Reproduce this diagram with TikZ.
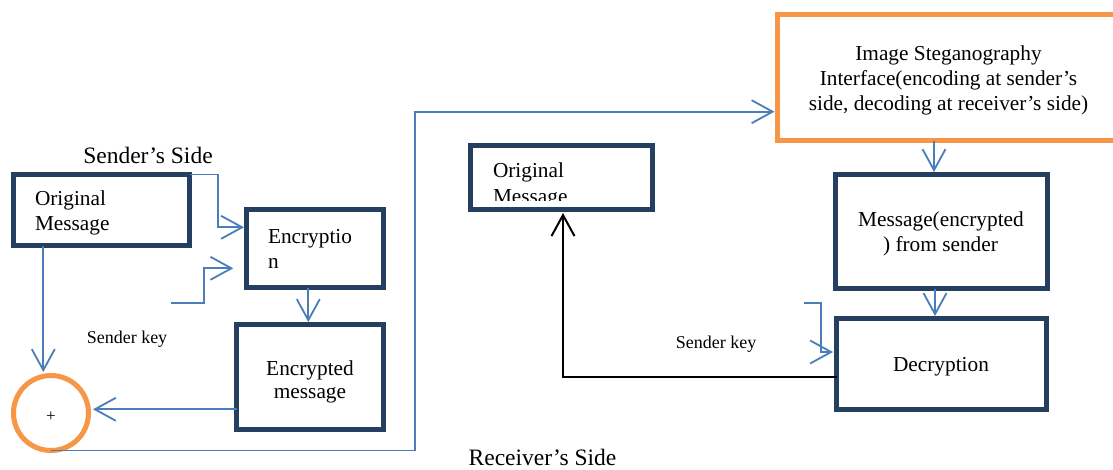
\documentclass[tikz,border=0pt]{standalone}
\usepackage{fontspec}
\setmainfont{Liberation Serif}
\usetikzlibrary{arrows.meta,calc}
\definecolor{navy}{HTML}{243F60}
\definecolor{orng}{HTML}{F79646}
\definecolor{conblue}{HTML}{4A7EBB}
\newcommand\fsz[1]{\fontsize{#1}{#1}\selectfont}
\begin{document}
\begin{tikzpicture}[x=1pt,y=-1pt,
  box/.style={draw=navy,line width=5pt,fill=white,inner sep=0pt,outer sep=0pt},
  obox/.style={draw=orng,line width=5pt,fill=white,inner sep=0pt,outer sep=0pt},
  ring/.style={circle,draw=orng,line width=5pt,fill=white,inner sep=0pt,outer sep=0pt,minimum size=75pt},
  conn/.style={draw=conblue,line width=1.8pt,-{Straight Barb[length=21pt,width=23pt]}},
  blk/.style={draw=black,line width=2pt,-{Straight Barb[length=21pt,width=23pt]}},
  lbl/.style={inner sep=0pt,outer sep=0pt,font=\fsz{21.3}},
  big/.style={inner sep=0pt,outer sep=0pt,font=\fsz{23.5}},
  small/.style={inner sep=0pt,outer sep=0pt,font=\fsz{18}},
  plusfont/.style={inner sep=0pt,outer sep=0pt,font=\fsz{17}},
]
\useasboundingbox (0,0) rectangle (1113,469);
\fill[white] (0,0) rectangle (1113,469);

% boxes
\node[box,minimum width=176pt,minimum height=71pt] (om1) at (101.5,210) {};
\node[box,minimum width=137pt,minimum height=78pt] (enc) at (315,248.5) {};
\node[box,minimum width=147pt,minimum height=105pt] (encm) at (310,377) {};
\node[ring] (plus) at (51,413) {};
\node[obox,minimum width=342.5pt,minimum height=126pt] (steg) at (948.75,77.5) {};
\node[box,minimum width=212pt,minimum height=114pt] (msg) at (941.5,231.5) {};
\node[box,minimum width=210pt,minimum height=91pt] (dec) at (941.5,364) {};
\node[box,minimum width=182pt,minimum height=64pt] (om2) at (561.5,177.5) {};

% texts
\node[big,anchor=base] (ss) at (148,163) {Sender’s Side};
\node[big,anchor=base] (rs) at (542.5,465.5) {Receiver’s Side};
\node[lbl,anchor=base west] (om1a) at (35,205) {Original};
\node[lbl,anchor=base west] (om1b) at (35,230) {Message};
\node[lbl,anchor=base west] (enca) at (268,243) {Encryptio};
\node[lbl,anchor=base west] (encb) at (268,268) {n};
\node[lbl,anchor=base] (encma) at (310,375) {Encrypted};
\node[lbl,anchor=base] (encmb) at (310,398.5) {message};
\node[plusfont] (plust) at (51,417) {+};
\node[small,anchor=base] (sk1) at (127,343) {Sender key};
\node[small,anchor=base] (sk2) at (716,348) {Sender key};
\node[lbl,anchor=base] (st1) at (948.5,60) {Image Steganography};
\node[lbl,anchor=base] (st2) at (948.5,85) {Interface(encoding at sender’s};
\node[lbl,anchor=base] (st3) at (948.5,110) {side, decoding at receiver’s side)};
\node[lbl,anchor=base] (msga) at (941,226.7) {Message(encrypted};
\node[lbl,anchor=base] (msgb) at (940.5,251.5) {) from sender};
\node[lbl,anchor=base] (deca) at (941,371.7) {Decryption};
\node[lbl,anchor=base west] (om2a) at (493,177) {Original};
\begin{scope}
  \clip (468,185) rectangle (655,200.7);
  \node[lbl,anchor=base west] (om2b) at (493,203) {Message};
\end{scope}

% connectors
\coordinate (j1) at (218.3,227.3);
\draw[conn,shorten >=2.5pt] (om1.north east) -| (j1) -- (j1 -| enc.west);

\coordinate (k1) at (170.7,302.7);
\coordinate (k1b) at (204.3,268.3);
\coordinate (k1e) at (233.3,268.3);
\draw[conn] (k1) -| (k1b) -- (k1e);

\coordinate (e1) at ([xshift=-6.7pt]enc.south);
\draw[conn,shorten >=2.5pt] (e1) -- (e1 |- encm.north);

\coordinate (o1) at ([xshift=-58.2pt]om1.south);
\draw[conn,shorten >=3.5pt] (o1) -- (o1 |- plus.north);

\coordinate (m1) at ([yshift=-32.3pt]encm.west);
\draw[conn,shorten >=4.5pt] (m1) -- (m1 -| plus.east);

\coordinate (c1) at (415,111.7);
\draw[conn,shorten >=3pt] (plus.south) -| (c1) -- (c1 -| steg.west);

\coordinate (s1) at ([xshift=-14.75pt]steg.south);
\draw[conn,shorten >=2.5pt] (s1) -- (s1 |- msg.north);

\coordinate (g1) at ([xshift=-6.5pt]msg.south);
\draw[conn,shorten >=2.5pt] (g1) -- (g1 |- dec.north);

\coordinate (k2) at (804,303);
\coordinate (k2b) at (821,352);
\draw[conn,shorten >=3.5pt] (k2) -| (k2b) -- (k2b -| dec.west);

\coordinate (d1) at ([yshift=-13pt]dec.west);
\coordinate (o2) at ([xshift=1.5pt]om2.south);
\draw[blk,shorten >=3.5pt] (d1) -| (o2);
\end{tikzpicture}
\end{document}
